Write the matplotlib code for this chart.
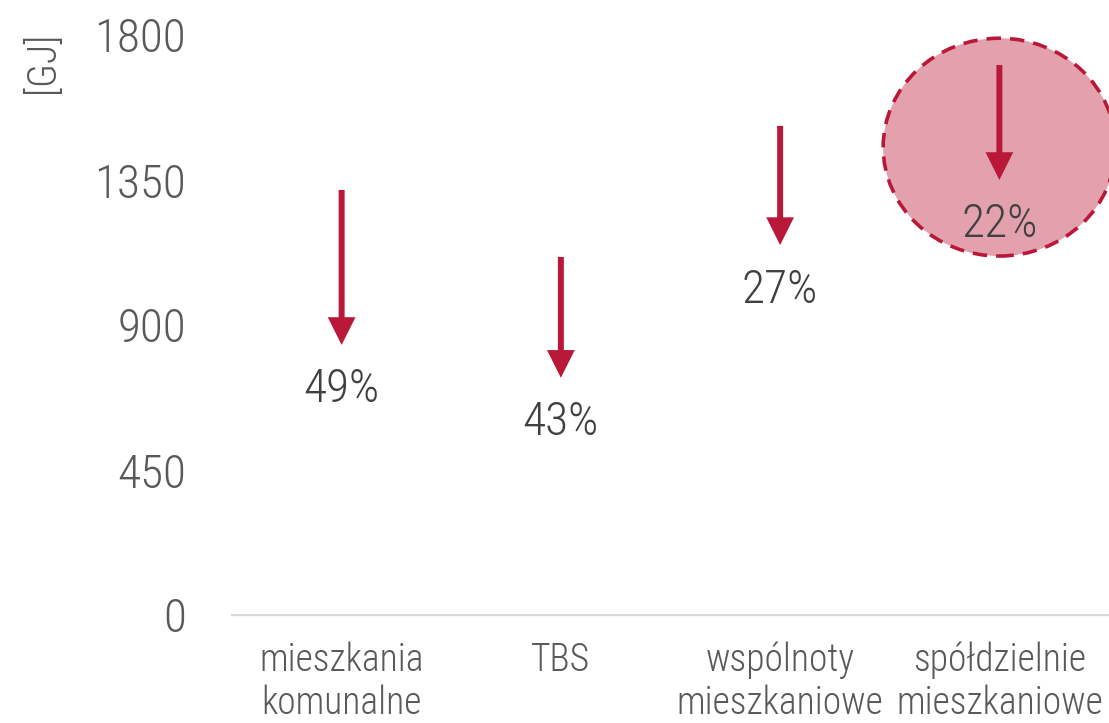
import matplotlib.pyplot as plt
from matplotlib.patches import Ellipse

plt.rcParams['font.family'] = ['Roboto Condensed', 'Roboto', 'DejaVu Sans']

categories = ["mieszkania\nkomunalne", "TBS", "wspólnoty\nmieszkaniowe", "spółdzielnie\nmieszkaniowe"]
start_vals = [1319, 1111, 1518, 1707]
end_vals = [838, 736, 1148, 1350]
pct_labels = ["49%", "43%", "27%", "22%"]
y_ticks = [0, 450, 900, 1350, 1800]
highlight_idx = 3

arrow_color = '#BA1838'
tick_color = '#595959'

fig = plt.figure(figsize=(11.09, 7.23), dpi=100)
ax = fig.add_axes([232 / 1109, 108 / 723, 1 - 232 / 1109, 580 / 723])

ax.set_xlim(-0.5, len(categories) - 0.5)
ax.set_ylim(0, 1800)

# highlighted group
ax.add_patch(Ellipse((highlight_idx, 1452), 1.06, 676,
                     facecolor='#E3A1AE', edgecolor=arrow_color,
                     linestyle=(0, (4, 2.5)), linewidth=2.6,
                     clip_on=False, zorder=1))

for i, (s, e, lab) in enumerate(zip(start_vals, end_vals, pct_labels)):
    ax.annotate('', xy=(i, e), xytext=(i, s),
                arrowprops=dict(width=4.3, headwidth=20, headlength=20,
                                facecolor=arrow_color, edgecolor='none', shrink=0),
                zorder=3)
    ax.annotate(lab, xy=(i, e), xytext=(0, -32), textcoords='offset points',
                ha='center', va='center', fontsize=34, color='#404040',
                fontweight='light', zorder=4)

ax.set_xticks(range(len(categories)), categories, fontsize=27,
              color=tick_color, fontweight='light', linespacing=1.2)
ax.set_yticks(y_ticks, [str(v) for v in y_ticks], fontsize=34,
              color=tick_color, fontweight='light')
ax.tick_params(axis='both', length=0)
ax.tick_params(axis='y', pad=33)
ax.tick_params(axis='x', pad=19)

for side in ['left', 'right', 'top']:
    ax.spines[side].set_visible(False)
ax.spines['bottom'].set_color('#d9d9d9')
ax.spines['bottom'].set_linewidth(1.6)

fig.text(42 / 1109, 1 - 62 / 723, "[GJ]", rotation=90, ha='center', va='center',
         fontsize=29, color=tick_color, fontweight='light')

fig.savefig('out.png', dpi=100)
